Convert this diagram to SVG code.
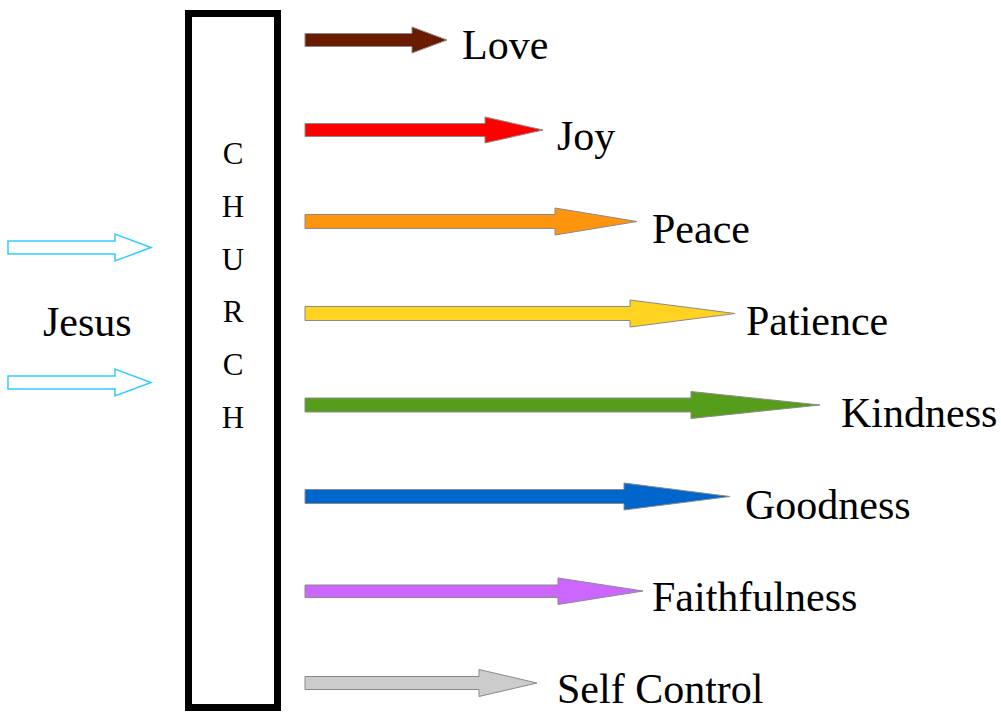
<svg xmlns="http://www.w3.org/2000/svg" width="1001" height="713" viewBox="0 0 1001 713">
<style>
.lbl{font-family:"Liberation Serif","Times New Roman",serif;font-size:42px;fill:#000}
.ch{font-family:"Liberation Serif","Times New Roman",serif;font-size:31px;fill:#000;text-anchor:middle}
.fr{stroke:#8a8a8a;stroke-width:1;stroke-linejoin:miter}
.jz{fill:#fff;stroke:#33ccff;stroke-width:1.5}
</style>
<rect width="1001" height="713" fill="#fff"/>
<g id="church">
<rect x="188.5" y="13.5" width="89" height="694" fill="#fff" stroke="#000" stroke-width="7"/>
<text class="ch" x="233" y="164">C</text>
<text class="ch" x="233" y="217">H</text>
<text class="ch" x="233" y="270">U</text>
<text class="ch" x="233" y="322">R</text>
<text class="ch" x="233" y="375">C</text>
<text class="ch" x="233" y="428">H</text>
</g>
<g id="jesus">
<text class="lbl" x="43" y="336">Jesus</text>
</g>
<g id="connectors">
<polygon class="jz" points="8,241 115,241 115,234 151,247.5 115,261 115,254 8,254"/>
<polygon class="jz" points="8,376 115,376 115,369 151,382.5 115,396 115,389 8,389"/>
<polygon class="fr" fill="#6b1c00" points="305,33.5 412,33.5 412,27 447,40 412,53 412,46.5 305,46.5"/>
<polygon class="fr" fill="#ff0000" points="305,123.5 485,123.5 485,117 543,130 485,143 485,136.5 305,136.5"/>
<polygon class="fr" fill="#ff950e" points="305,214.5 555,214.5 555,208 637,221.5 555,235 555,228.5 305,228.5"/>
<polygon class="fr" fill="#ffd320" points="305,306.5 630,306.5 630,300 735,313.5 630,327 630,320.5 305,320.5"/>
<polygon class="fr" fill="#579d1c" points="305,398 691,398 691,391.5 820,405 691,418.5 691,412 305,412"/>
<polygon class="fr" fill="#0066cc" points="305,489.5 624,489.5 624,483 730,496.5 624,510 624,503.5 305,503.5"/>
<polygon class="fr" fill="#cc66ff" points="305,585 558,585 558,578 643,591 558,604.5 558,597.5 305,597.5"/>
<polygon class="fr" fill="#cccccc" points="305,676.5 479,676.5 479,669.5 537,683 479,696.5 479,689.5 305,689.5"/>
</g>
<g id="love"><text class="lbl" x="462" y="59">Love</text></g>
<g id="joy"><text class="lbl" x="557" y="150">Joy</text></g>
<g id="peace"><text class="lbl" x="652" y="243">Peace</text></g>
<g id="patience"><text class="lbl" x="746" y="335">Patience</text></g>
<g id="kindness"><text class="lbl" x="841" y="427">Kindness</text></g>
<g id="goodness"><text class="lbl" x="745" y="519">Goodness</text></g>
<g id="faithfulness"><text class="lbl" x="652" y="611">Faithfulness</text></g>
<g id="selfcontrol"><text class="lbl" x="557" y="703">Self Control</text></g>
</svg>
